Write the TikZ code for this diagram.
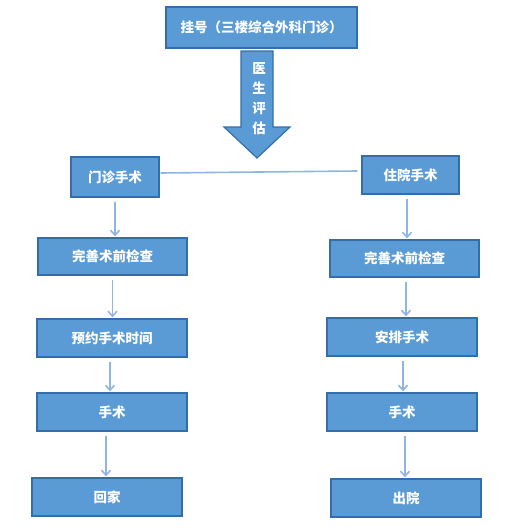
\documentclass[tikz,border=0pt]{standalone}
\usepackage{fontspec}
\newfontfamily\cjk{Noto Sans CJK SC}
\usetikzlibrary{arrows.meta}
\definecolor{boxfill}{RGB}{91,155,213}
\definecolor{boxline}{RGB}{52,110,170}
\definecolor{arrcol}{RGB}{141,182,226}
\tikzset{
  stepbox/.style={draw=boxline, line width=1.2pt, fill=boxfill, text=white, inner sep=0pt,
    font=\cjk\bfseries\fontsize{13.5}{16}\selectfont},
  flowarr/.style={draw=arrcol, line width=1.6pt, -{Straight Barb[length=5pt,width=9pt]}, shorten <=4pt, shorten >=1pt},
}
\begin{document}
\begin{tikzpicture}[x=1pt,y=-1pt]
\useasboundingbox (0,0) rectangle (509,531);
% top box
\node[stepbox, minimum width=191pt, minimum height=41pt] (reg) at (261.5,27.5) {挂号（三楼综合外科门诊）};
% big arrow
\draw[draw=boxline, line width=1.2pt, fill=boxfill] (241,51) -- (273,51) -- (273,127) -- (290,127) -- (257,158) -- (224,127) -- (241,127) -- cycle;
\node[text=white, font=\cjk\bfseries\fontsize{13.5}{20}\selectfont, align=center, inner sep=0pt] (eval) at (259,99) {医\\生\\评\\估};
% branch boxes
\node[stepbox, minimum width=88pt, minimum height=40pt] (op) at (115,177) {门诊手术};
\node[stepbox, minimum width=97pt, minimum height=38pt] (ip) at (410.5,175) {住院手术};
\draw[draw=arrcol, line width=1.6pt] ([yshift=4pt,xshift=1pt]op.east) -- ([yshift=4pt,xshift=-4pt]ip.west);
% left column
\node[stepbox, minimum width=149pt, minimum height=37pt] (l1) at (112.5,256.5) {完善术前检查};
\node[stepbox, minimum width=150pt, minimum height=38pt] (l2) at (112,338) {预约手术时间};
\node[stepbox, minimum width=150pt, minimum height=38pt] (l3) at (112,412) {手术};
\node[stepbox, minimum width=150pt, minimum height=38pt] (l4) at (107,497) {回家};
% right column
\node[stepbox, minimum width=149pt, minimum height=37pt] (r1) at (404.5,258.5) {完善术前检查};
\node[stepbox, minimum width=150pt, minimum height=38pt] (r2) at (402,337) {安排手术};
\node[stepbox, minimum width=150pt, minimum height=38pt] (r3) at (402,412) {手术};
\node[stepbox, minimum width=150pt, minimum height=38pt] (r4) at (406,498) {出院};
% arrows left
\draw[flowarr] (op.south) -- (op.south |- l1.north);
\draw[flowarr] (l1.south) -- (l1.south |- l2.north);
\draw[flowarr] ([xshift=-2pt]l2.south) -- ([xshift=-2pt]l2.south |- l3.north);
\draw[flowarr] ([xshift=-6pt]l3.south) -- ([xshift=-6pt]l3.south |- l4.north);
% arrows right
\draw[flowarr] ([xshift=-3.5pt]ip.south) -- ([xshift=-3.5pt]ip.south |- r1.north);
\draw[flowarr] ([xshift=1.5pt]r1.south) -- ([xshift=1.5pt]r1.south |- r2.north);
\draw[flowarr] ([xshift=1pt]r2.south) -- ([xshift=1pt]r2.south |- r3.north);
\draw[flowarr] ([xshift=3pt]r3.south) -- ([xshift=3pt]r3.south |- r4.north);
\end{tikzpicture}
\end{document}
